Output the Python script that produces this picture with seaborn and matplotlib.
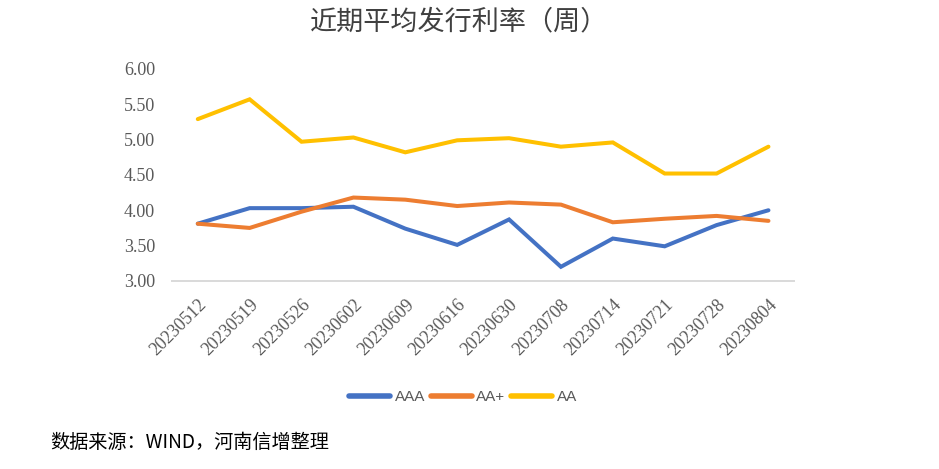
import numpy as np
import pandas as pd
import matplotlib
matplotlib.use("Agg")
import matplotlib.pyplot as plt
import seaborn as sns

# ── Data ─────────────────────────────────────────────────────────────────────
dates = ["20230512", "20230519", "20230526", "20230602", "20230609", "20230616",
         "20230630", "20230708", "20230714", "20230721", "20230728", "20230804"]
aaa = [3.81, 4.03, 4.03, 4.05, 3.74, 3.51, 3.87, 3.20, 3.60, 3.49, 3.79, 4.00]
aa_plus = [3.81, 3.75, 3.98, 4.18, 4.15, 4.06, 4.11, 4.08, 3.83, 3.88, 3.92, 3.85]
aa = [5.29, 5.57, 4.97, 5.03, 4.82, 4.99, 5.02, 4.90, 4.96, 4.52, 4.52, 4.90]
series_names = ["AAA", "AA+", "AA"]
colors = ["#4472C4", "#ED7D31", "#FFC000"]
y_ticks = [3.0, 3.5, 4.0, 4.5, 5.0, 5.5, 6.0]

title = "近期平均发行利率（周）"
source_note = "数据来源：WIND，河南信增整理"

df = pd.DataFrame({
    "date": dates * 3,
    "rate": aaa + aa_plus + aa,
    "series": np.repeat(series_names, len(dates)),
})

sns.set_theme(style="white")
plt.rcParams["font.family"] = ["Noto Sans CJK SC", "DejaVu Sans"]

fig = plt.figure(figsize=(9.39, 4.69), dpi=100)
ax = fig.add_axes([0.183, 0.401, 0.663, 0.452])

sns.lineplot(data=df, x="date", y="rate", hue="series", hue_order=series_names,
             palette=colors, linewidth=2.9, sort=False, ax=ax, legend=True)
for line in ax.lines:
    line.set_solid_capstyle("round")
    line.set_solid_joinstyle("miter")

ax.set_xlim(-0.5, len(dates) - 0.5)
ax.set_ylim(3.0, 6.0)
ax.set_yticks(y_ticks)
ax.set_yticklabels([f"{v:.2f}" for v in y_ticks], family="Liberation Serif",
                   fontsize=13, color="#595959")
ax.set_xticks(range(len(dates)))
ax.set_xticklabels(dates, rotation=45, ha="right", rotation_mode="anchor",
                   family="Liberation Serif", fontsize=13, color="#595959")
ax.tick_params(axis="both", length=0)
ax.tick_params(axis="x", pad=11)
ax.tick_params(axis="y", pad=12)
ax.set_xlabel("")
ax.set_ylabel("")
for side in ["top", "right", "left"]:
    ax.spines[side].set_visible(False)
ax.spines["bottom"].set_color("#D9D9D9")
ax.spines["bottom"].set_linewidth(1.4)
ax.grid(False)

handles, labels = ax.get_legend_handles_labels()
ax.legend_.remove()
for h in handles:
    h.set_linewidth(4)
    h.set_solid_capstyle("round")
fig.legend(handles, labels, loc="center", bbox_to_anchor=(0.493, 0.153), ncol=3,
           frameon=False, handlelength=2.7, handletextpad=0.3, columnspacing=0.35,
           prop={"family": "Liberation Sans", "size": 11}, labelcolor="#595959")

fig.text(0.489, 0.953, title, ha="center", va="center", fontsize=19.5, color="#404040")
fig.text(0.053, 0.057, source_note, ha="left", va="center", fontsize=13.8, color="#000000")

fig.savefig("out.png", dpi=100)
